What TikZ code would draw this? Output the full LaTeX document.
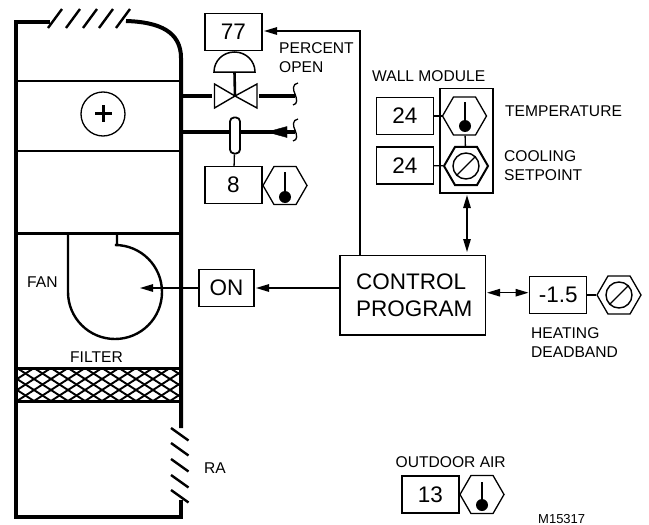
\documentclass[tikz,border=0pt]{standalone}
\usepackage{fontspec}
\setmainfont{Liberation Sans}
\usetikzlibrary{arrows.meta,shapes.geometric}
\tikzset{
  wall/.style={line width=4pt,line cap=butt},
  floorline/.style={line width=2.2pt},
  louver/.style={line width=2.4pt},
  valbox/.style={draw,line width=1.3pt,minimum width=57pt,minimum height=37pt,inner sep=0pt,font=\fontsize{22.5}{24}\selectfont},
  lbl/.style={anchor=west,inner sep=0pt,font=\fontsize{15.6}{19}\selectfont,align=left},
  link/.style={line width=1.3pt},
  sig/.style={line width=1.3pt,-{Triangle[length=13pt,width=7.5pt]}},
  dsig/.style={line width=1.3pt,{Triangle[length=13pt,width=7.5pt]}-{Triangle[length=13pt,width=7.5pt]}},
  pipe/.style={line width=3.2pt},
  hexa/.style={draw,regular polygon,regular polygon sides=6,minimum size=44pt,inner sep=0pt,line width=1.3pt},
  hexb/.style={hexa,line width=2pt},
  bulb/.style={circle,fill=black,minimum size=12pt,inner sep=0pt},
  squig/.style={line width=1.3pt}
}
\begin{document}
\begin{tikzpicture}[x=1pt,y=-1pt]
\useasboundingbox (0,0) rectangle (649,525);
% duct
\draw[wall] (50,22) -- (16,22) -- (16,517) -- (181,517) -- (181,500);
\draw[wall] (126,21) .. controls (160,22) and (181,32) .. (181,58) -- (181,428);
\foreach \a in {48,66,83,99,116} \draw[louver] (\a,28) -- ++(14,-19);
\foreach \b in {428,443,459,475,490} \draw[louver] (171,\b) -- ++(17.5,12.5);
\foreach \c in {81,151,233.5} \draw[floorline] (16,\c) -- (181,\c);
% coil
\node[circle,draw,line width=1.3pt,minimum size=44pt,inner sep=0pt] (coil) at (103,114) {};
\draw[line width=3.2pt] (95,113.5) -- (112,113.5) (103.5,105) -- (103.5,122);
% fan
\draw[line width=2.4pt] (117,245) -- (117,233.5) -- (68,233.5) -- (68,292)
  .. controls (68,318) and (89,339) .. (115,339) .. controls (141,339) and (162,318) .. (162,292)
  .. controls (162,266) and (141,245) .. (115,245) -- (117,245);
\node[lbl] (fan) at (27,282) {FAN};
% filter
\begin{scope}
\clip (18,368) rectangle (179,401);
\foreach \k in {-6,...,14} {
  \draw[line width=1.9pt] (\k*17,368) -- ++(51,33);
  \draw[line width=1.9pt] (\k*17,401) -- ++(51,-33);
}
\end{scope}
\draw[line width=3pt] (16,368) -- (181,368) (16,401) -- (181,401);
\node[lbl] (filter) at (70,357) {FILTER};
\node[lbl] (ra) at (204,468) {RA};
% valve
\node[valbox] (b77) at (233.5,32) {77};
\draw[line width=1.5pt] (214,72) .. controls (214,60.7) and (223.2,52) .. (234.5,52) .. controls (245.8,52) and (255,60.7) .. (255,72) -- cycle;
\coordinate (vc) at (235,96);
\draw[line width=2.6pt] (234.5,72) -- (vc);
\draw[line width=1.4pt] (vc) -- (214.5,84) -- (214.5,108) -- cycle;
\draw[line width=1.4pt] (vc) -- (257,84) -- (257,108) -- cycle;
\draw[pipe] (181,96) -- (212,96);
\draw[pipe] (259,96) -- (295,96);
\draw[squig] (298,83) .. controls (292,84) and (293,90) .. (295,94) .. controls (297,99) and (298,104) .. (293,105);
% sensor
\draw[pipe] (181,132) -- (295,132);
\draw[fill=black] (267,132) -- (287,126.5) -- (287,137.5) -- cycle;
\draw[squig] (298,119) .. controls (292,120) and (293,126) .. (295,130) .. controls (297,135) and (298,140) .. (293,141);
\node[draw,fill=white,line width=1.8pt,rounded corners=4pt,minimum width=10pt,minimum height=36pt,inner sep=0pt] (cap) at (235,135.5) {};
\node[valbox] (b8) at (233.5,185) {8};
\draw[link] (cap) -- (b8);
\node[hexa] (h8) at (285,185.5) {};
\draw[link] (285,172) -- (285,195);
\node[bulb] at (285,197) {};
% wall module
\node[lbl] (wm) at (372,76) {WALL MODULE};
\node[draw,line width=1.5pt,minimum width=53pt,minimum height=104.5pt,inner sep=0pt] (wbox) at (466.5,140.5) {};
\node[valbox] (b24a) at (405,116) {24};
\node[valbox] (b24b) at (405,165.5) {24};
\node[hexa] (h1) at (464.5,116) {};
\draw[link] (465,102) -- (465,125);
\node[bulb] at (465,126) {};
\node[hexb] (h2) at (466,166) {};
\node[circle,draw,line width=1.4pt,minimum size=26pt,inner sep=0pt] (s2) at (466,166) {};
\draw[link] (s2.225) -- (s2.45);
\draw[link] (b24a) -- (h1);
\draw[link] (b24b) -- (h2);
\draw[link] (h1) -- (h2);
\node[lbl] (temp) at (505,111) {TEMPERATURE};
\node[lbl] (cool) at (504,165.5) {COOLING\\SETPOINT};
\node[lbl] (pct) at (279,58) {PERCENT\\OPEN};
% control
\node[draw,line width=1.5pt,minimum width=145.5pt,minimum height=79.5pt,inner sep=0pt,align=left,font=\fontsize{22.5}{27}\selectfont] (ctrl) at (412.75,295.25) {\hspace*{3pt}CONTROL\\\hspace*{3pt}PROGRAM};
\coordinate (c1) at (360,255.5);
\coordinate (c2) at (360,31);
\coordinate (c3) at (264,31);
\draw[sig] (c1) -- (c2) -- (c3);
\coordinate (w1) at (467,195);
\coordinate (w2) at (467,252);
\draw[dsig] (w1) -- (w2);
% on box
\node[valbox,minimum width=55pt] (on) at (226.5,288) {ON};
\coordinate (onr) at (256,288);
\coordinate (ctlw) at (340,288);
\coordinate (fanc) at (140,288);
\draw[sig] (ctlw) -- (onr);
\draw[sig] (on) -- (fanc);
% heating
\node[valbox] (b15) at (558.25,295) {-1.5};
\coordinate (d1) at (487,292.7);
\coordinate (d2) at (528.5,292.7);
\draw[dsig] (d1) -- (d2);
\node[hexa] (h3) at (619,295) {};
\node[circle,draw,line width=1.4pt,minimum size=26pt,inner sep=0pt] (s3) at (619,295) {};
\draw[link] (s3.225) -- (s3.45);
\draw[link] (b15) -- (h3);
\node[lbl] (heat) at (531,342.5) {HEATING\\DEADBAND};
% outdoor
\node[lbl] (oa) at (395.5,462) {OUTDOOR AIR};
\node[valbox] (b13) at (430.5,494.5) {13};
\node[hexa] (h4) at (482,494.5) {};
\draw[link] (482,482) -- (482,503);
\node[bulb] at (482,505) {};
\node[anchor=base west,inner sep=0pt,font=\fontsize{13}{13}\selectfont] (mn) at (538,523.5) {M15317};
\end{tikzpicture}
\end{document}
